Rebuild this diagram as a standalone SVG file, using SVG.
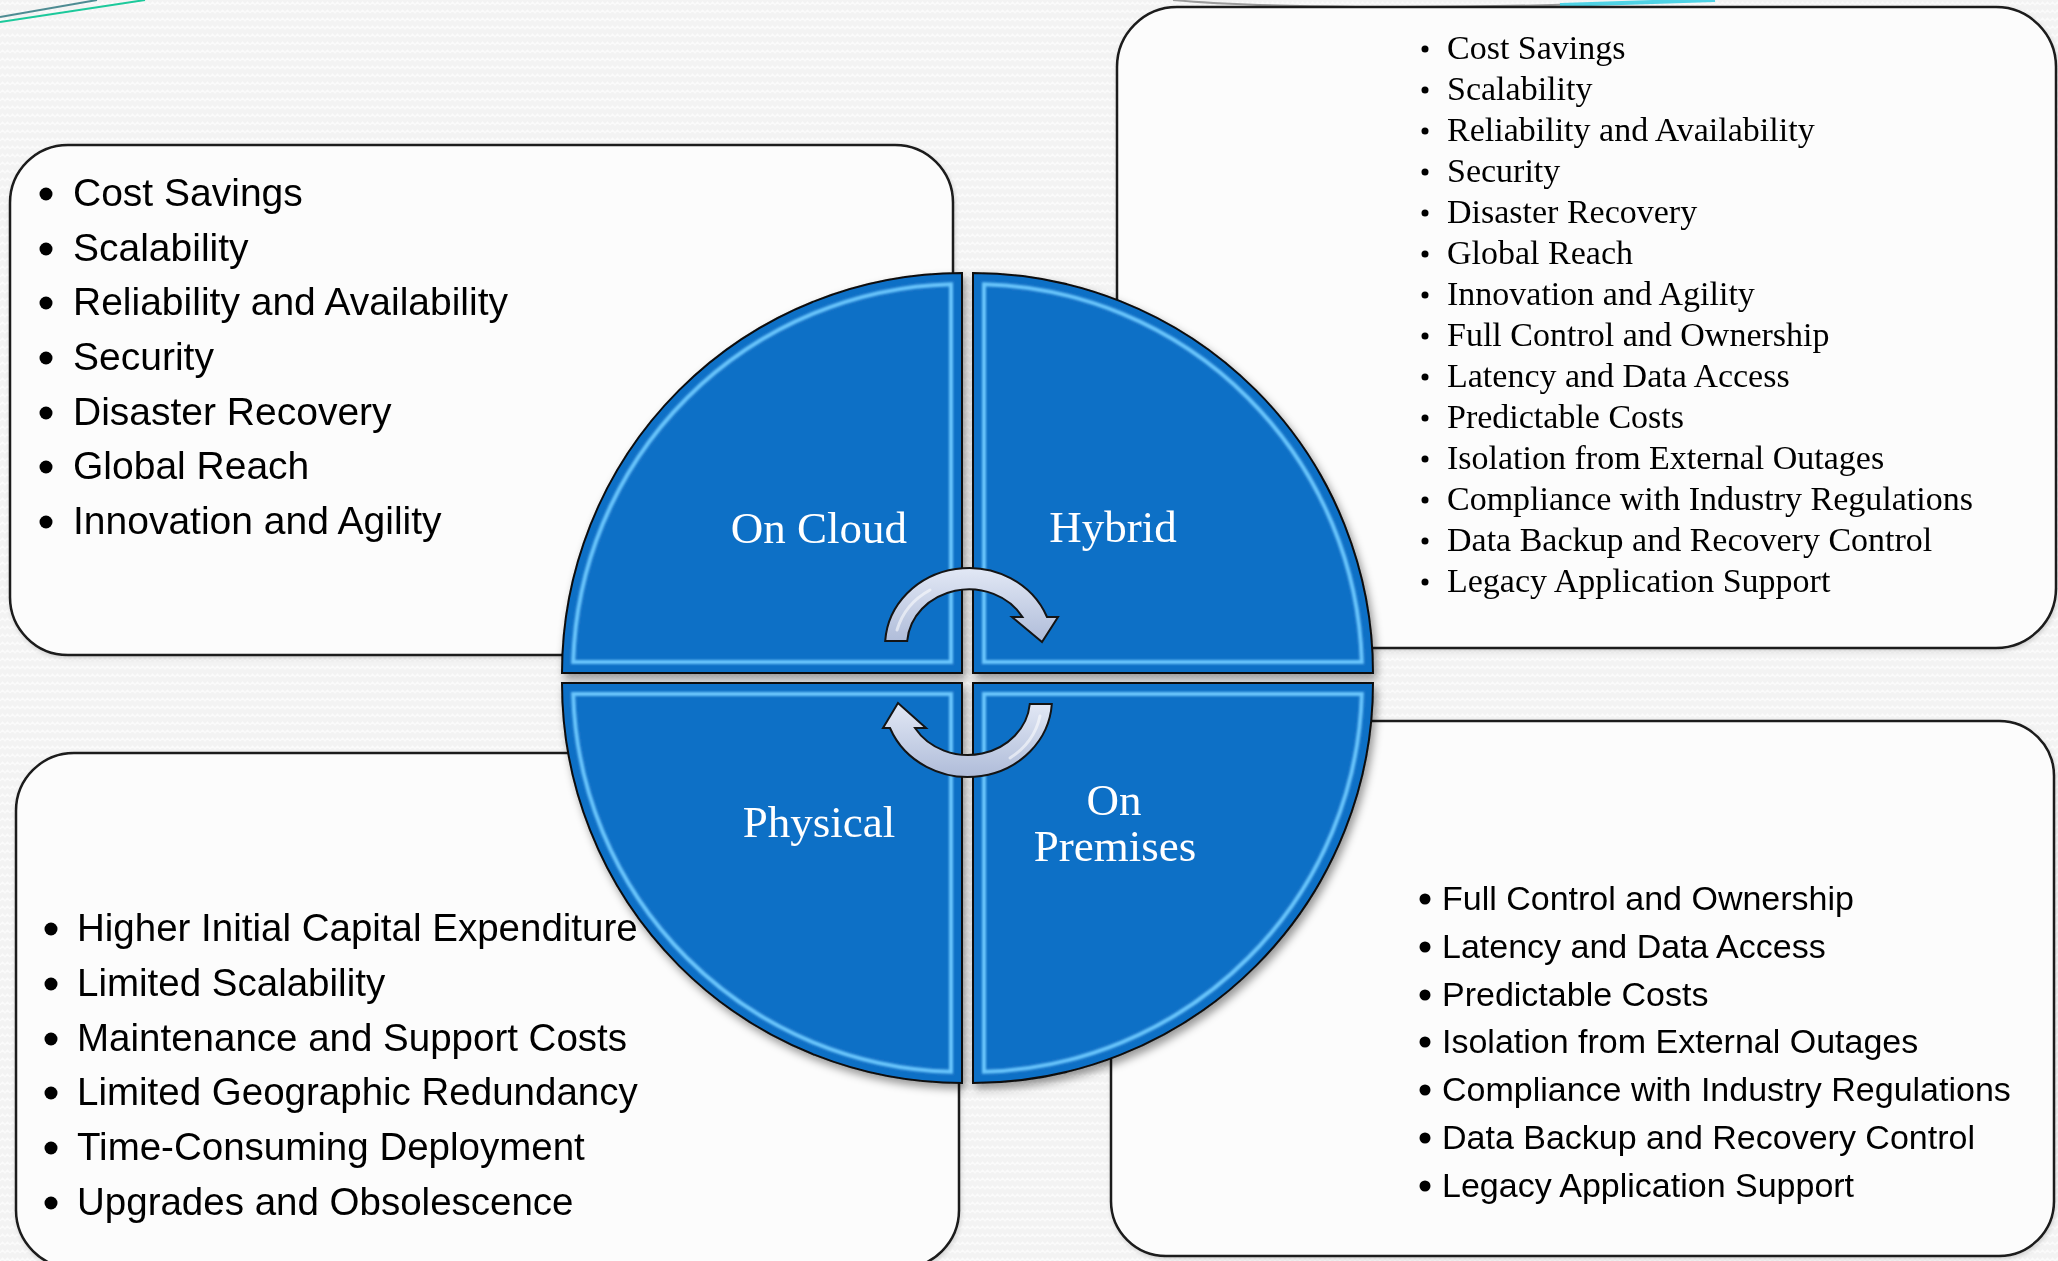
<svg xmlns="http://www.w3.org/2000/svg" width="2058" height="1261" viewBox="0 0 2058 1261">
<style>
.box{fill:#FCFCFC;stroke:#1A1A1A;stroke-width:2.5}
.sans{font-family:"Liberation Sans",Arial,sans-serif;fill:#000}
.l39{font-size:39px}
.l34{font-size:34px}
.serif{font-family:"Liberation Serif","Times New Roman",serif;fill:#000;font-size:34px}
.quad{fill:#1170C6;stroke:#0A0A0A;stroke-width:2}
.bevel{fill:none;stroke:#6FCBFF;stroke-width:4;stroke-linejoin:miter;opacity:0.95}
.lbl{font-family:"Liberation Serif","Times New Roman",serif;font-size:45px;fill:#FFFFFF;text-anchor:middle}
.arrow{fill:url(#arrowGrad);stroke:#141414;stroke-width:2;stroke-linejoin:miter}
.hl{fill:none;stroke:#FFFFFF;stroke-width:3;opacity:0.55;stroke-linecap:round}
</style>
<defs>
<pattern id="bgPat" width="10" height="8" patternUnits="userSpaceOnUse">
<rect width="10" height="8" fill="#F3F3F3"/>
<path d="M0,5 L2.5,2 L5,5 L7.5,2 L10,5" fill="none" stroke="#FBFBFB" stroke-width="1.3"/>
</pattern>
<linearGradient id="arrowGrad" x1="0" y1="0" x2="0" y2="1">
<stop offset="0" stop-color="#E2E8F5"/>
<stop offset="1" stop-color="#AFBCD9"/>
</linearGradient>
<filter id="shadow" x="-10%" y="-10%" width="125%" height="125%">
<feDropShadow dx="3" dy="5" stdDeviation="4" flood-color="#000" flood-opacity="0.4"/>
</filter>
<filter id="boxShadow" x="-5%" y="-5%" width="110%" height="110%">
<feDropShadow dx="1" dy="2" stdDeviation="2" flood-color="#000" flood-opacity="0.15"/>
</filter>
<filter id="soft" x="-5%" y="-5%" width="110%" height="110%">
<feGaussianBlur stdDeviation="1"/>
</filter>
</defs>

<rect width="2058" height="1261" fill="url(#bgPat)"/>

<g id="decor">
<line x1="0" y1="17" x2="97" y2="0" stroke="#4E8C93" stroke-width="2"/>
<line x1="0" y1="22" x2="145" y2="0" stroke="#1CC99B" stroke-width="2"/>
<path d="M1173,0 C1260,8 1440,9 1580,4" fill="none" stroke="#9C9C9C" stroke-width="2"/>
<path d="M1560,5 C1620,3 1680,1 1715,0" fill="none" stroke="#4FD3E6" stroke-width="4"/>
</g>

<g id="box-cloud" filter="url(#boxShadow)">
<rect class="box" x="10" y="145" width="943" height="510" rx="58" ry="58"/>
<g fill="#000">
<circle cx="46" cy="194" r="6.5"/><circle cx="46" cy="249" r="6.5"/><circle cx="46" cy="303" r="6.5"/><circle cx="46" cy="358" r="6.5"/><circle cx="46" cy="413" r="6.5"/><circle cx="46" cy="467" r="6.5"/><circle cx="46" cy="522" r="6.5"/>
</g>
<g class="sans l39">
<text x="73" y="206">Cost Savings</text>
<text x="73" y="261">Scalability</text>
<text x="73" y="315">Reliability and Availability</text>
<text x="73" y="370">Security</text>
<text x="73" y="425">Disaster Recovery</text>
<text x="73" y="479">Global Reach</text>
<text x="73" y="534">Innovation and Agility</text>
</g>
</g>

<g id="box-hybrid" filter="url(#boxShadow)">
<rect class="box" x="1117" y="7" width="939" height="641" rx="60" ry="60"/>
<g fill="#000">
<circle cx="1425" cy="49" r="3.5"/><circle cx="1425" cy="90" r="3.5"/><circle cx="1425" cy="131" r="3.5"/><circle cx="1425" cy="172" r="3.5"/><circle cx="1425" cy="213" r="3.5"/><circle cx="1425" cy="254" r="3.5"/><circle cx="1425" cy="295" r="3.5"/><circle cx="1425" cy="336" r="3.5"/><circle cx="1425" cy="377" r="3.5"/><circle cx="1425" cy="418" r="3.5"/><circle cx="1425" cy="459" r="3.5"/><circle cx="1425" cy="500" r="3.5"/><circle cx="1425" cy="541" r="3.5"/><circle cx="1425" cy="582" r="3.5"/>
</g>
<g class="serif">
<text x="1447" y="59">Cost Savings</text>
<text x="1447" y="100">Scalability</text>
<text x="1447" y="141">Reliability and Availability</text>
<text x="1447" y="182">Security</text>
<text x="1447" y="223">Disaster Recovery</text>
<text x="1447" y="264">Global Reach</text>
<text x="1447" y="305">Innovation and Agility</text>
<text x="1447" y="346">Full Control and Ownership</text>
<text x="1447" y="387">Latency and Data Access</text>
<text x="1447" y="428">Predictable Costs</text>
<text x="1447" y="469">Isolation from External Outages</text>
<text x="1447" y="510">Compliance with Industry Regulations</text>
<text x="1447" y="551">Data Backup and Recovery Control</text>
<text x="1447" y="592">Legacy Application Support</text>
</g>
</g>

<g id="box-physical" filter="url(#boxShadow)">
<rect class="box" x="16" y="753" width="943" height="515" rx="58" ry="58"/>
<g fill="#000">
<circle cx="51" cy="929" r="6.5"/><circle cx="51" cy="984" r="6.5"/><circle cx="51" cy="1039" r="6.5"/><circle cx="51" cy="1093" r="6.5"/><circle cx="51" cy="1148" r="6.5"/><circle cx="51" cy="1203" r="6.5"/>
</g>
<g class="sans" style="font-size:38.5px">
<text x="77" y="941">Higher Initial Capital Expenditure</text>
<text x="77" y="996">Limited Scalability</text>
<text x="77" y="1051">Maintenance and Support Costs</text>
<text x="77" y="1105">Limited Geographic Redundancy</text>
<text x="77" y="1160">Time-Consuming Deployment</text>
<text x="77" y="1215">Upgrades and Obsolescence</text>
</g>
</g>

<g id="box-onprem" filter="url(#boxShadow)">
<rect class="box" x="1111" y="721" width="943" height="535" rx="55" ry="55"/>
<g fill="#000">
<circle cx="1425" cy="899" r="5.5"/><circle cx="1425" cy="947" r="5.5"/><circle cx="1425" cy="995" r="5.5"/><circle cx="1425" cy="1042" r="5.5"/><circle cx="1425" cy="1090" r="5.5"/><circle cx="1425" cy="1138" r="5.5"/><circle cx="1425" cy="1186" r="5.5"/>
</g>
<g class="sans l34">
<text x="1442" y="910">Full Control and Ownership</text>
<text x="1442" y="958">Latency and Data Access</text>
<text x="1442" y="1006">Predictable Costs</text>
<text x="1442" y="1053">Isolation from External Outages</text>
<text x="1442" y="1101">Compliance with Industry Regulations</text>
<text x="1442" y="1149">Data Backup and Recovery Control</text>
<text x="1442" y="1197">Legacy Application Support</text>
</g>
</g>

<g id="circle" filter="url(#shadow)">
<g id="quad-cloud">
<path class="quad" d="M962,673 L562,673 A400,400 0 0 1 962,273 Z"/>
<path class="bevel" filter="url(#soft)" d="M951,662 L573.2,662 A389,389 0 0 1 951,284.2 Z"/>
<text class="lbl" x="819" y="543">On Cloud</text>
</g>
<g id="quad-hybrid">
<path class="quad" d="M973,673 L973,273 A400,400 0 0 1 1373,673 Z"/>
<path class="bevel" filter="url(#soft)" d="M984,662 L984,284.2 A389,389 0 0 1 1361.8,662 Z"/>
<text class="lbl" x="1113" y="542">Hybrid</text>
</g>
<g id="quad-onprem">
<path class="quad" d="M973,683 L1373,683 A400,400 0 0 1 973,1083 Z"/>
<path class="bevel" filter="url(#soft)" d="M984,694 L1361.8,694 A389,389 0 0 1 984,1071.8 Z"/>
<text class="lbl" x="1114" y="815">On</text>
<text class="lbl" x="1115" y="861">Premises</text>
</g>
<g id="quad-physical">
<path class="quad" d="M962,683 L962,1083 A400,400 0 0 1 562,683 Z"/>
<path class="bevel" filter="url(#soft)" d="M951,694 L951,1071.8 A389,389 0 0 1 573.2,694 Z"/>
<text class="lbl" x="819" y="837">Physical</text>
</g>
</g>

<g id="connectors">
<path class="arrow" d="M885.2,641 A84,78 0 0 1 1047,617 L1058,617 L1042,642 L1012,617 L1022.5,617 A62,56 0 0 0 907.2,641 Z"/>
<path class="hl" d="M897,630 A73,67 0 0 1 930,590"/>
<path class="arrow" d="M1051.8,704 A84,78 0 0 1 890,728 L883,728 L898,703 L926,728 L915,728 A62,56 0 0 0 1029.8,704 Z"/>
<path class="hl" d="M1040,716 A73,67 0 0 1 1010,758"/>
</g>
</svg>
